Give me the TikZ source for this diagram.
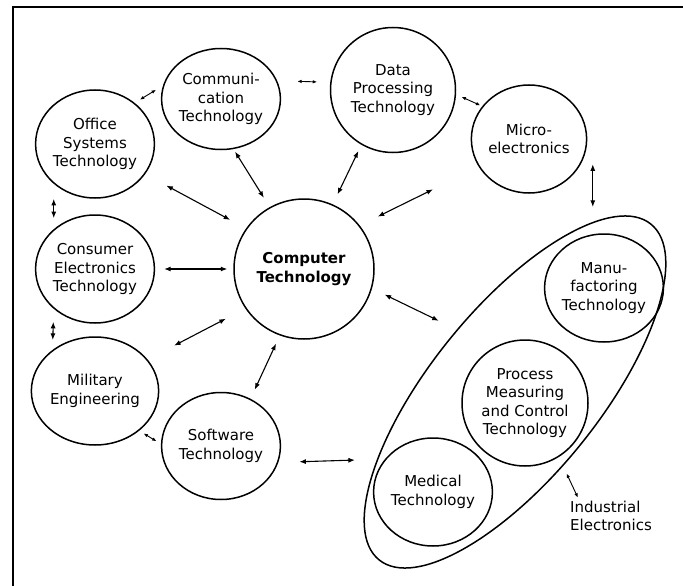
\documentclass[tikz,border=0pt]{standalone}
\usepackage{fontspec}
\setmainfont{DejaVu Sans}
\usepackage{tikz}
\usetikzlibrary{arrows.meta,shapes.geometric}
\tikzset{tech/.style={draw, ellipse, line width=1.5pt, inner sep=0pt, align=center, minimum size=108pt},
	link/.style={{Latex[length=6.5pt,width=5pt]}-{Latex[length=6.5pt,width=5pt]}, line width=1.1pt},
	thin link/.style={{Latex[length=4.5pt,width=3.5pt]}-{Latex[length=4.5pt,width=3.5pt]}, line width=0.9pt}}

\begin{document}
\begin{tikzpicture}[x=1pt, y=-1pt, font=\fontsize{15}{18.5}\selectfont]
		\useasboundingbox (0,0) rectangle (683,586);
		\draw[line width=2pt](683,6.7) -- (13,6.7) -- (13,586);
		\node(office)[tech] at (95,144){Office\\Systems\\Technology};
		\node(comm)[tech, minimum width=110pt, minimum height=101pt] at (221,99){Communi-\\cation\\Technology};
		\node(data)[tech, minimum size=125pt] at (393,90){Data\\Processing\\Technology};
		\node(micro)[tech] at (529,139){Micro-\\electronics};
		\node(consumer)[tech] at (95,269){Consumer\\Electronics\\Technology};
		\node(computer)[tech, minimum size=140pt, font=\fontsize{15}{18.5}\selectfont\bfseries] at (304,269){Computer\\Technology};
		\node(military)[tech] at (95,391){Military\\Engineering};
		\node(software)[tech, minimum width=110pt, minimum height=107pt] at (221,446){Software\\Technology};
		\node(industry)[draw, ellipse, line width=1.5pt, rotate=51, minimum width=432pt, minimum height=168pt] at (515,392){};
		\node(manu)[tech] at (604,288){Manu-\\factoring\\Technology};
		\node(process)[tech, minimum size=126pt] at (525,403){Process\\Measuring\\and Control\\Technology};
		\node(medical)[tech] at (433,492){Medical\\Technology};
		\node(indel)[align=left, inner sep=1pt] at (611,516){Industrial\\Electronics};
		\draw[thin link, shorten <=6pt, shorten >=8pt](office.46) -- (comm.167);
		\draw[thin link, shorten <=20pt, shorten >=13pt](comm.18) -- (data.173);
		\draw[thin link, shorten <=6pt, shorten >=2pt](data.-4) -- (micro.145);
		\draw[link, shorten >=16pt]([xshift=12pt]micro.-26) -- ([xshift=12pt]micro.-26 |- industry.15);
		\draw[link, shorten <=7pt, shorten >=11pt](data.-120) -- (computer.66);
		\draw[link, shorten <=20pt, shorten >=51pt](computer.38) -- (micro.209);
		\draw[link, shorten <=14pt, shorten >=20pt](computer.-16) -- (industry.82);
		\draw[link, shorten <=24pt, shorten >=18pt](office.-31) -- (computer.145);
		\draw[link, shorten <=3pt, shorten >=11pt](comm.-76) -- (computer.119);
		\draw[link, shorten <=9pt, shorten >=6pt](consumer.east) -- (computer.west);
		\draw[link, shorten <=30pt, shorten >=22pt](military.31) -- (computer.214);
		\draw[link, shorten <=9pt, shorten >=10pt](computer.-110) -- (software.58);
		\draw[link, shorten <=15pt, shorten >=11pt](office.-136) -- (consumer.136);
		\draw[link, shorten <=13pt, shorten >=10pt](consumer.-136) -- (military.136);
		\draw[thin link, shorten <=5pt, shorten >=5pt](military.-42) -- (software.178);
		\draw[link, shorten <=21pt, shorten >=22pt](software.-16) -- (industry.155);
		\draw[thin link, shorten <=8pt](industry.-108) -- ([xshift=9pt,yshift=2pt]indel.north west);
	\end{tikzpicture}
\end{document}
